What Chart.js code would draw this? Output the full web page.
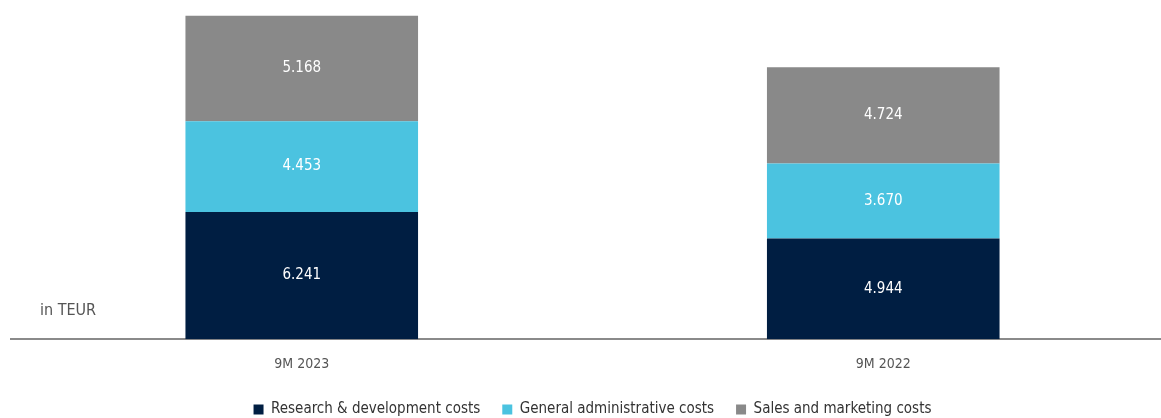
<!DOCTYPE html>
<html>
<head>
<meta charset="utf-8">
<script src="https://cdn.jsdelivr.net/npm/chart.js@4"></script>
<style>
body{margin:0;overflow:hidden;background:#fff}
#wrap{position:relative;width:1174px;height:418px}
#unit{position:absolute;left:40px;top:300px;font:16px "DejaVu Sans Condensed","Liberation Sans Narrow",sans-serif;color:#555}
</style>
</head>
<body>
<div id="wrap">
<canvas id="costChart" width="1174" height="418"></canvas>
<div id="unit">in TEUR</div>
</div>
<script>
let periods = ["9M 2023", "9M 2022"]
let rdCosts = [6241, 4944]
let adminCosts = [4453, 3670]
let salesCosts = [5168, 4724]

let fontFam = '"DejaVu Sans Condensed","Liberation Sans Narrow",sans-serif'

function fmt(v){
return v.toLocaleString("de-DE")
}

let labelPlugin = {
id:"barLabels",
afterDatasetsDraw(chart){
let ctx = chart.ctx
ctx.save()
ctx.fillStyle = "#fff"
ctx.font = "15px " + fontFam
ctx.textAlign = "center"
ctx.textBaseline = "middle"
chart.data.datasets.forEach((ds,i)=>{
chart.getDatasetMeta(i).data.forEach((bar,j)=>{
let mid = (bar.y + bar.base)/2
ctx.fillText(fmt(ds.data[j]), bar.x, mid)
})
})
ctx.restore()
}
}

// fixed legend height so the axis sits low like the original
let legendFit = {
id:"legendFit",
afterInit(chart){
let orig = chart.legend.fit
chart.legend.fit = function(){
orig.call(this)
this.height = 38
}
}
}

new Chart(document.getElementById("costChart"),{
type:"bar",
data:{
labels:periods,
datasets:[
{label:"Research & development costs",data:rdCosts,backgroundColor:"#001e42"},
{label:"General administrative costs",data:adminCosts,backgroundColor:"#4bc3e0"},
{label:"Sales and marketing costs",data:salesCosts,backgroundColor:"#898989"}
]
},
options:{
responsive:false,
animation:false,
devicePixelRatio:1,
layout:{padding:{left:11,top:13,right:0,bottom:0}},
plugins:{
legend:{
position:"bottom",
labels:{boxWidth:10,boxHeight:10,padding:22,color:"#333",font:{family:fontFam,size:15}}
},
tooltip:{enabled:false}
},
scales:{
x:{
stacked:true,
grid:{display:false},
border:{display:true,color:"#8a8a8a",width:2},
ticks:{color:"#555",padding:9,font:{family:fontFam,size:14}},
afterFit(s){ s.height -= 2 }
},
y:{
stacked:true,
display:false,
min:0,
max:16000
}
},
datasets:{bar:{barPercentage:0.8,categoryPercentage:0.5}}
},
plugins:[labelPlugin,legendFit]
})
</script>
</body>
</html>
